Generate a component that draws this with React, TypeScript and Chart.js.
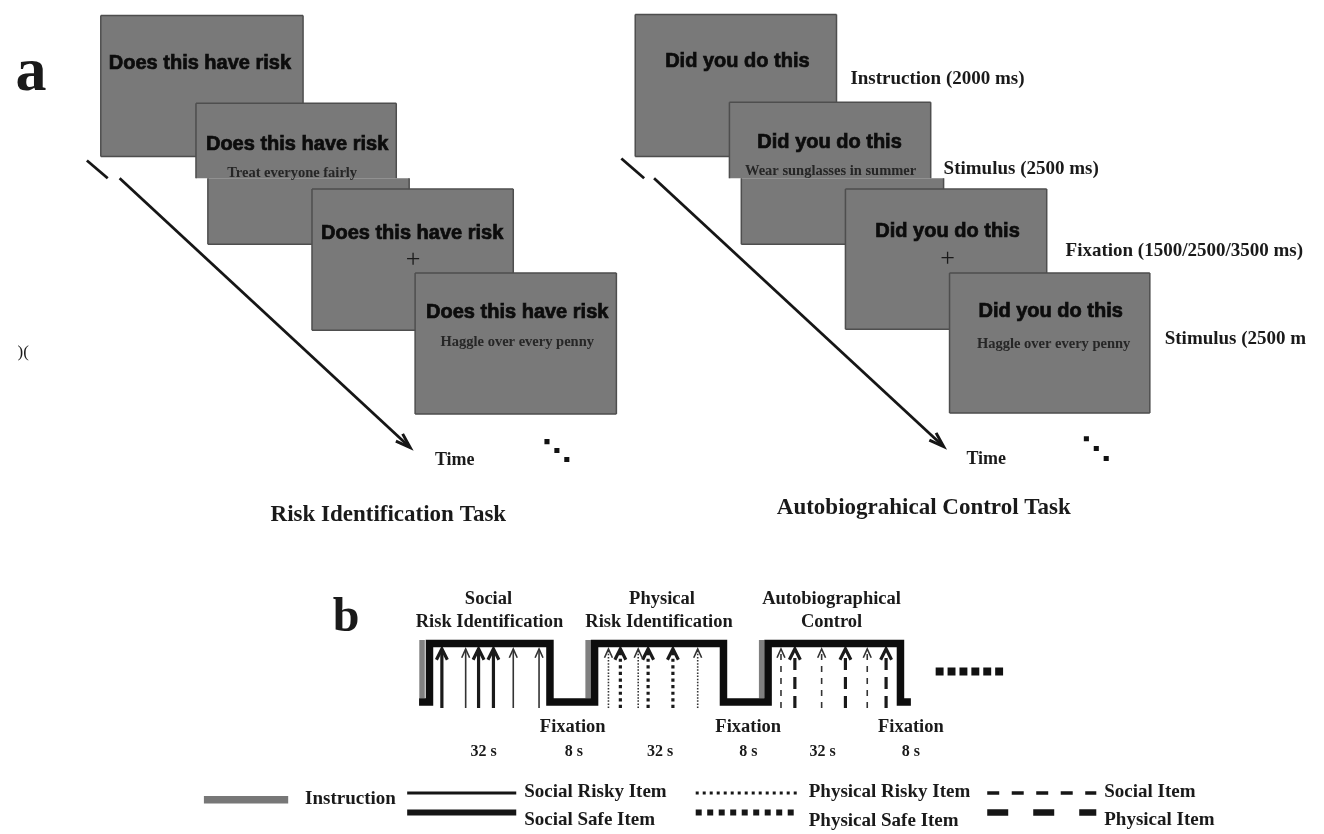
import React, { useEffect, useRef } from "react";
import { Chart, registerables } from "chart.js";

Chart.register(...registerables);

const FIG_W = 1324;
const FIG_H = 834;

// ---------------- Panel a : screens ----------------
const riskPrompt = "Does this have risk";
const autoPrompt = "Did you do this";
const riskItems = ["Treat everyone fairly", "Haggle over every penny"];
const autoItems = ["Wear sunglasses in summer", "Haggle over every penny"];
const phaseLabels = ["Instruction (2000 ms)", "Stimulus (2500 ms)", "Fixation (1500/2500/3500 ms)", "Stimulus (2500 m"];
const taskTitles = ["Risk Identification Task", "Autobiograhical Control Task"];

// screen rectangles: [x0, x1, y0, y1] in figure units
const riskScreens = [
  [96, 300, 10, 153],
  [192, 394, 99, 175],
  [204, 407, 175, 242],
  [309, 512, 186, 329],
  [413, 616, 271, 414],
];
const autoScreens = [
  [635, 838, 9, 153],
  [730, 933, 98, 175],
  [742, 946, 175, 242],
  [847, 1050, 186, 328],
  [952, 1154, 271, 413],
];
const screenEdges = ["tlrb", "tlr", "lrb", "tlrb", "tlrb"];

// time arrows: two pieces [start, break], [resume, tip]
const riskTimeArrow = [[82, 157], [103, 175], [115, 175], [408, 448]];
const autoTimeArrow = [[621, 155], [644, 175], [654, 175], [946, 447]];
const riskEllipsis = [[546, 442], [556, 451], [566, 460]];
const autoEllipsis = [[1090, 439], [1100, 449], [1110, 459]];

// ---------------- Panel b : block design ----------------
const blockTitlesTop = ["Social", "Physical", "Autobiographical"];
const blockTitlesBottom = ["Risk Identification", "Risk Identification", "Control"];
const durationLabels = ["32 s", "8 s", "32 s", "8 s", "32 s", "8 s"];
const fixationLabel = "Fixation";

const waveform = [
  [417, 706], [427.5, 706], [427.5, 646.5], [549, 646.5], [549, 706],
  [594, 706], [594, 646.5], [724, 646.5], [724, 706],
  [769, 706], [769, 646.5], [902.5, 646.5], [902.5, 706], [913, 706],
];
const instructionBarsX = [420, 587.5, 762.5];
const instructionBarsY = [643, 702];

const socialItemX = [440, 464, 477, 492, 512, 538];
const socialItemSafe = [true, false, true, true, false, false];
const physicalItemX = [608, 620, 638, 648, 673, 698];
const physicalItemSafe = [false, true, false, true, true, false];
const controlItemX = [782, 796, 823, 847, 869, 888];
const controlItemPhysical = [false, true, false, true, false, true];
const itemArrowY = [712, 652]; // base, tip

const moreBlocksX = [942, 954, 966, 978, 990, 1002];
const moreBlocksY = 675;

// legend
const legendLabels = ["Instruction", "Social Risky Item", "Social Safe Item", "Physical Risky Item", "Physical Safe Item", "Social Item", "Physical Item"];

// ---------------- styles ----------------
const SERIF = '"Liberation Serif", "Times New Roman", serif';
const SANS = '"Liberation Sans", Arial, sans-serif';
const INK = "#161616";
const SCREEN_FILL = "#797979";
const SCREEN_EDGE = "#4e4e4e";
const INSTR_GRAY = "#808080";

type Pt = number[];

function seg(points: Pt[], color: string, width: number, dash: number[] = []) {
  return {
    data: points.map(([x, y]) => ({ x, y })),
    showLine: true,
    borderColor: color,
    backgroundColor: color,
    borderWidth: width,
    borderDash: dash,
    pointRadius: 0,
    pointHoverRadius: 0,
    fill: false,
    tension: 0,
    borderCapStyle: "butt",
    borderJoinStyle: "miter",
  };
}

function dots(points: Pt[], radius: number, color: string) {
  return {
    data: points.map(([x, y]) => ({ x, y })),
    showLine: false,
    pointStyle: "rect",
    pointRadius: radius,
    pointHoverRadius: radius,
    pointBorderWidth: 0,
    pointBackgroundColor: color,
    backgroundColor: color,
    borderColor: color,
  };
}

function timeArrow(p: Pt[]) {
  const [a, b, c, tip] = p;
  const dx = tip[0] - c[0];
  const dy = tip[1] - c[1];
  const len = Math.hypot(dx, dy);
  const ux = dx / len, uy = dy / len;
  const L = 15, w = 5;
  const bx = tip[0] - ux * L, by = tip[1] - uy * L;
  return [
    seg([a, b], INK, 2.8),
    seg([c, [tip[0] - ux * 3, tip[1] - uy * 3]], INK, 2.8),
    seg([[bx - uy * w, by + ux * w], tip, [bx + uy * w, by - ux * w]], INK, 3),
  ];
}

function itemArrow(x: number, heavy: boolean, thinDash: number[], thickDash: number[]) {
  const [base, tip] = itemArrowY;
  const w = heavy ? 3.2 : 1.6;
  const hw = heavy ? 5.5 : 4;
  const hl = heavy ? 11 : 9;
  const color = heavy ? "#1a1a1a" : "#333333";
  return [
    seg([[x, base], [x, tip + 2]], color, w, heavy ? thickDash : thinDash),
    seg([[x - hw, tip + hl], [x, tip], [x + hw, tip + hl]], color, w),
  ];
}

function buildDatasets() {
  const ds: any[] = [];
  ds.push(...timeArrow(riskTimeArrow));
  ds.push(...timeArrow(autoTimeArrow));
  ds.push(dots(riskEllipsis, 3.6, "#111"));
  ds.push(dots(autoEllipsis, 3.6, "#111"));

  ds.push(seg(waveform, "#0d0d0d", 7.5));
  instructionBarsX.forEach((x) => ds.push(seg([[x, instructionBarsY[0]], [x, instructionBarsY[1]]], INSTR_GRAY, 5.5)));
  socialItemX.forEach((x, i) => ds.push(...itemArrow(x, socialItemSafe[i], [], [])));
  physicalItemX.forEach((x, i) => ds.push(...itemArrow(x, physicalItemSafe[i], [1.5, 1.6], [3.2, 3.4])));
  controlItemX.forEach((x, i) => ds.push(...itemArrow(x, controlItemPhysical[i], [6, 6], [12, 7])));
  ds.push(dots(moreBlocksX.map((x) => [x, moreBlocksY]), 5.6, "#111"));

  // legend keys
  ds.push(seg([[200, 805], [285, 805]], "#777777", 7.5));
  ds.push(seg([[405, 798], [515, 798]], INK, 3));
  ds.push(seg([[405, 818], [515, 818]], INK, 6));
  ds.push(seg([[696, 798], [800, 798]], INK, 3, [3, 4]));
  ds.push(seg([[696, 818], [800, 818]], INK, 6, [6, 5.5]));
  ds.push(seg([[990, 798], [1100, 798]], INK, 3.5, [12, 12.5]));
  ds.push(seg([[990, 818], [1100, 818]], INK, 6.5, [21, 25]));
  return ds;
}

const FONTS: Record<string, string> = {
  panel: `bold 62px ${SERIF}`,
  panelB: `bold 48px ${SERIF}`,
  prompt: `bold 20px ${SANS}`,
  item: `bold 14.5px ${SERIF}`,
  phase: `bold 19px ${SERIF}`,
  time: `bold 18px ${SERIF}`,
  task: `bold 23px ${SERIF}`,
  block: `bold 18.5px ${SERIF}`,
  dur: `bold 16px ${SERIF}`,
  legend: `bold 19px ${SERIF}`,
  plus: `26px ${SERIF}`,
  odd: `17px ${SERIF}`,
};

// [text, x, y, font, align, baseline]
type TextSpec = [string, number, number, string, CanvasTextAlign, CanvasTextBaseline?];
const texts: TextSpec[] = [
  ["a", 10, 86, "panel", "left", "alphabetic"],
  [")(", 12, 352, "odd", "left"],
  [riskPrompt, 196, 59, "prompt", "center"],
  [riskPrompt, 294, 141, "prompt", "center"],
  [riskItems[0], 289, 170, "item", "center"],
  [riskPrompt, 410, 231, "prompt", "center"],
  ["+", 411, 258, "plus", "center"],
  [riskPrompt, 516, 311, "prompt", "center"],
  [riskItems[1], 516, 341, "item", "center"],
  ["Time", 453, 461, "time", "center"],
  [taskTitles[0], 386, 516, "task", "center"],

  [autoPrompt, 738, 57, "prompt", "center"],
  [autoPrompt, 831, 139, "prompt", "center"],
  [autoItems[0], 832, 168, "item", "center"],
  [autoPrompt, 950, 229, "prompt", "center"],
  ["+", 950, 257, "plus", "center"],
  [autoPrompt, 1054, 310, "prompt", "center"],
  [autoItems[1], 1057, 343, "item", "center"],
  [phaseLabels[0], 852, 75, "phase", "left"],
  [phaseLabels[1], 946, 166, "phase", "left"],
  [phaseLabels[2], 1069, 249, "phase", "left"],
  [phaseLabels[3], 1169, 338, "phase", "left"],
  ["Time", 989, 460, "time", "center"],
  [taskTitles[1], 926, 509, "task", "center"],

  ["b", 330, 634, "panelB", "left", "alphabetic"],
  [blockTitlesTop[0], 487, 602, "block", "center"],
  [blockTitlesBottom[0], 488, 625, "block", "center"],
  [blockTitlesTop[1], 662, 602, "block", "center"],
  [blockTitlesBottom[1], 659, 625, "block", "center"],
  [blockTitlesTop[2], 833, 602, "block", "center"],
  [blockTitlesBottom[2], 833, 625, "block", "center"],
  [fixationLabel, 572, 731, "block", "center"],
  [fixationLabel, 749, 731, "block", "center"],
  [fixationLabel, 913, 731, "block", "center"],
  [durationLabels[0], 482, 756, "dur", "center"],
  [durationLabels[1], 573, 756, "dur", "center"],
  [durationLabels[2], 660, 756, "dur", "center"],
  [durationLabels[3], 749, 756, "dur", "center"],
  [durationLabels[4], 824, 756, "dur", "center"],
  [durationLabels[5], 913, 756, "dur", "center"],

  [legendLabels[0], 302, 804, "legend", "left"],
  [legendLabels[1], 523, 797, "legend", "left"],
  [legendLabels[2], 523, 826, "legend", "left"],
  [legendLabels[3], 810, 797, "legend", "left"],
  [legendLabels[4], 810, 827, "legend", "left"],
  [legendLabels[5], 1108, 797, "legend", "left"],
  [legendLabels[6], 1108, 826, "legend", "left"],
];

const diagramPlugin = {
  id: "diagram",
  beforeDatasetsDraw(chart: any) {
    const { ctx } = chart;
    const sx = chart.scales.x;
    const sy = chart.scales.y;
    ctx.save();
    const draw = (screens: number[][]) => {
      screens.forEach((s, i) => {
        const l = sx.getPixelForValue(s[0]);
        const r = sx.getPixelForValue(s[1]);
        const t = sy.getPixelForValue(s[2]);
        const b = sy.getPixelForValue(s[3]);
        ctx.fillStyle = SCREEN_FILL;
        ctx.fillRect(l, t, r - l, b - t);
        const e = screenEdges[i];
        ctx.strokeStyle = SCREEN_EDGE;
        ctx.lineWidth = 1.5;
        ctx.beginPath();
        if (e.includes("t")) { ctx.moveTo(l, t); ctx.lineTo(r, t); }
        if (e.includes("r")) { ctx.moveTo(r, t); ctx.lineTo(r, b); }
        if (e.includes("b")) { ctx.moveTo(l, b); ctx.lineTo(r, b); }
        if (e.includes("l")) { ctx.moveTo(l, t); ctx.lineTo(l, b); }
        ctx.stroke();
      });
    };
    draw(riskScreens);
    draw(autoScreens);
    ctx.restore();
  },
  afterDatasetsDraw(chart: any) {
    const { ctx } = chart;
    const sx = chart.scales.x;
    const sy = chart.scales.y;
    ctx.save();
    texts.forEach(([t, x, y, f, align, base]) => {
      ctx.font = FONTS[f];
      ctx.textAlign = align;
      ctx.textBaseline = base || "middle";
      const px = sx.getPixelForValue(x);
      const py = sy.getPixelForValue(y);
      if (f === "prompt") {
        ctx.fillStyle = "#0c0c0c";
        ctx.strokeStyle = "#0c0c0c";
        ctx.lineWidth = 0.7;
        ctx.strokeText(t, px, py);
        ctx.fillText(t, px, py);
      } else if (f === "item") {
        ctx.fillStyle = "#262626";
        ctx.fillText(t, px, py);
      } else {
        ctx.fillStyle = "#1a1a1a";
        ctx.fillText(t, px, py);
      }
    });
    ctx.restore();
  },
};

export default function App() {
  const ref = useRef<HTMLCanvasElement>(null);
  useEffect(() => {
    const canvas = ref.current;
    if (!canvas) return;
    const chart = new Chart(canvas, {
      type: "scatter",
      data: { datasets: buildDatasets() },
      options: {
        animation: false,
        responsive: false,
        maintainAspectRatio: false,
        devicePixelRatio: 1,
        events: [],
        layout: { padding: 0 },
        scales: {
          x: { type: "linear", min: 0, max: FIG_W, display: false },
          y: { type: "linear", min: 0, max: FIG_H, reverse: true, display: false },
        },
        plugins: { legend: { display: false }, tooltip: { enabled: false } },
      } as any,
      plugins: [diagramPlugin as any],
    });
    return () => chart.destroy();
  }, []);
  return (
    <div style={{ position: "fixed", left: 0, top: 0, width: FIG_W, height: FIG_H, background: "#ffffff" }}>
      <canvas ref={ref} width={FIG_W} height={FIG_H} style={{ display: "block", width: FIG_W, height: FIG_H }} />
    </div>
  );
}
